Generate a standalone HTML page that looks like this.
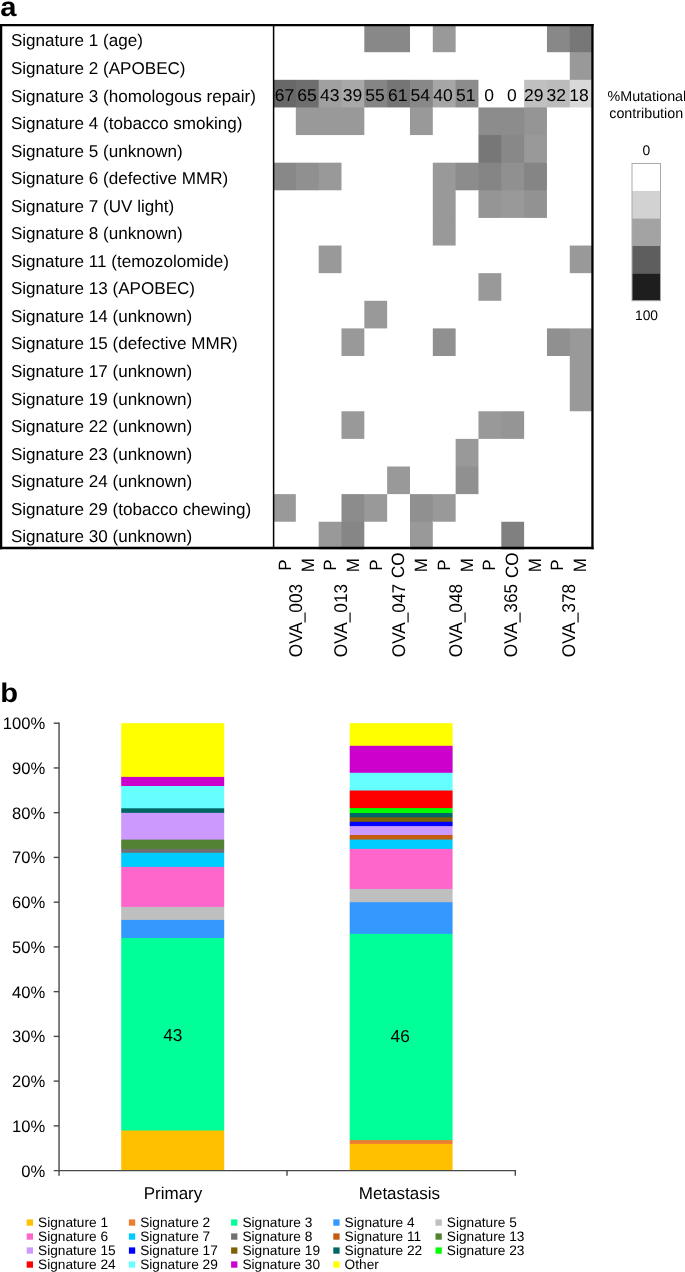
<!DOCTYPE html><html><head><meta charset="utf-8"><title>Mutational signatures</title>
<style>html,body{margin:0;padding:0;background:#fff}svg{display:block;will-change:transform}text{text-rendering:geometricPrecision;font-family:"Liberation Sans",Arial,Helvetica,sans-serif;fill:#000}</style></head><body>
<svg width="685" height="1272" viewBox="0 0 685 1272">
<rect width="685" height="1272" fill="#fff"/>
<text transform="translate(0.2 15.7) scale(1.08 1)" font-size="27" font-weight="bold">a</text>
<text transform="translate(0.3 702.3) scale(1.08 1)" font-size="27" font-weight="bold">b</text>
<g>
<rect x="387" y="25" width="1" height="27" fill="#888888"/>
<rect x="569" y="25" width="1" height="27" fill="#888888"/>
<rect x="570" y="52" width="22" height="1" fill="#777777"/>
<rect x="570" y="79" width="22" height="1" fill="#999999"/>
<rect x="295" y="80" width="1" height="27" fill="#686868"/>
<rect x="318" y="80" width="1" height="27" fill="#6e6e6e"/>
<rect x="296" y="107" width="22" height="1" fill="#6e6e6e"/>
<rect x="341" y="80" width="1" height="27" fill="#a0a0a0"/>
<rect x="319" y="107" width="22" height="1" fill="#a0a0a0"/>
<rect x="364" y="80" width="1" height="27" fill="#a8a8a8"/>
<rect x="342" y="107" width="22" height="1" fill="#a8a8a8"/>
<rect x="387" y="80" width="1" height="27" fill="#858585"/>
<rect x="409" y="80" width="1" height="27" fill="#757575"/>
<rect x="432" y="80" width="1" height="27" fill="#888888"/>
<rect x="410" y="107" width="22" height="1" fill="#888888"/>
<rect x="455" y="80" width="1" height="27" fill="#a6a6a6"/>
<rect x="546" y="80" width="1" height="27" fill="#c0c0c0"/>
<rect x="525" y="107" width="21" height="1" fill="#c0c0c0"/>
<rect x="569" y="80" width="1" height="27" fill="#bbbbbb"/>
<rect x="318" y="108" width="1" height="27" fill="#999999"/>
<rect x="341" y="108" width="1" height="27" fill="#999999"/>
<rect x="501" y="108" width="1" height="27" fill="#8c8c8c"/>
<rect x="479" y="135" width="22" height="1" fill="#8c8c8c"/>
<rect x="524" y="108" width="1" height="27" fill="#8c8c8c"/>
<rect x="502" y="135" width="22" height="1" fill="#8c8c8c"/>
<rect x="525" y="135" width="21" height="1" fill="#959595"/>
<rect x="501" y="136" width="1" height="26" fill="#777777"/>
<rect x="479" y="162" width="22" height="1" fill="#777777"/>
<rect x="524" y="136" width="1" height="26" fill="#888888"/>
<rect x="502" y="162" width="22" height="1" fill="#888888"/>
<rect x="525" y="162" width="21" height="1" fill="#999999"/>
<rect x="295" y="163" width="1" height="27" fill="#888888"/>
<rect x="318" y="163" width="1" height="27" fill="#909090"/>
<rect x="455" y="163" width="1" height="27" fill="#999999"/>
<rect x="433" y="190" width="22" height="1" fill="#999999"/>
<rect x="478" y="163" width="1" height="27" fill="#8c8c8c"/>
<rect x="501" y="163" width="1" height="27" fill="#858585"/>
<rect x="479" y="190" width="22" height="1" fill="#858585"/>
<rect x="524" y="163" width="1" height="27" fill="#909090"/>
<rect x="502" y="190" width="22" height="1" fill="#909090"/>
<rect x="525" y="190" width="21" height="1" fill="#858585"/>
<rect x="433" y="217" width="22" height="1" fill="#999999"/>
<rect x="501" y="191" width="1" height="26" fill="#959595"/>
<rect x="524" y="191" width="1" height="26" fill="#999999"/>
<rect x="569" y="329" width="1" height="27" fill="#909090"/>
<rect x="570" y="356" width="22" height="1" fill="#999999"/>
<rect x="570" y="383" width="22" height="1" fill="#999999"/>
<rect x="501" y="412" width="1" height="26" fill="#999999"/>
<rect x="456" y="466" width="22" height="1" fill="#999999"/>
<rect x="364" y="495" width="1" height="26" fill="#8c8c8c"/>
<rect x="342" y="521" width="22" height="1" fill="#8c8c8c"/>
<rect x="432" y="495" width="1" height="26" fill="#909090"/>
<rect x="410" y="521" width="22" height="1" fill="#909090"/>
<rect x="341" y="522" width="1" height="27" fill="#999999"/>
<rect x="318" y="107" width="1" height="1" fill="#6e6e6e"/>
<rect x="341" y="107" width="1" height="1" fill="#a0a0a0"/>
<rect x="501" y="135" width="1" height="1" fill="#8c8c8c"/>
<rect x="524" y="135" width="1" height="1" fill="#8c8c8c"/>
<rect x="501" y="162" width="1" height="1" fill="#777777"/>
<rect x="524" y="162" width="1" height="1" fill="#888888"/>
<rect x="501" y="190" width="1" height="1" fill="#858585"/>
<rect x="524" y="190" width="1" height="1" fill="#909090"/>
<rect x="364.32" y="24.58" width="22.83" height="27.62" fill="#888888"/>
<rect x="387.15" y="24.58" width="22.83" height="27.62" fill="#888888"/>
<rect x="432.81" y="24.58" width="22.83" height="27.62" fill="#999999"/>
<rect x="546.96" y="24.58" width="22.83" height="27.62" fill="#888888"/>
<rect x="569.79" y="24.58" width="22.83" height="27.62" fill="#777777"/>
<rect x="569.79" y="52.20" width="22.83" height="27.62" fill="#999999"/>
<rect x="273.00" y="79.82" width="22.83" height="27.62" fill="#686868"/>
<rect x="295.83" y="79.82" width="22.83" height="27.62" fill="#6e6e6e"/>
<rect x="318.66" y="79.82" width="22.83" height="27.62" fill="#a0a0a0"/>
<rect x="341.49" y="79.82" width="22.83" height="27.62" fill="#a8a8a8"/>
<rect x="364.32" y="79.82" width="22.83" height="27.62" fill="#858585"/>
<rect x="387.15" y="79.82" width="22.83" height="27.62" fill="#757575"/>
<rect x="409.98" y="79.82" width="22.83" height="27.62" fill="#888888"/>
<rect x="432.81" y="79.82" width="22.83" height="27.62" fill="#a6a6a6"/>
<rect x="455.64" y="79.82" width="22.83" height="27.62" fill="#8c8c8c"/>
<rect x="524.13" y="79.82" width="22.83" height="27.62" fill="#c0c0c0"/>
<rect x="546.96" y="79.82" width="22.83" height="27.62" fill="#bbbbbb"/>
<rect x="569.79" y="79.82" width="22.83" height="27.62" fill="#d8d8d8"/>
<rect x="295.83" y="107.44" width="22.83" height="27.62" fill="#999999"/>
<rect x="318.66" y="107.44" width="22.83" height="27.62" fill="#999999"/>
<rect x="341.49" y="107.44" width="22.83" height="27.62" fill="#999999"/>
<rect x="409.98" y="107.44" width="22.83" height="27.62" fill="#999999"/>
<rect x="478.47" y="107.44" width="22.83" height="27.62" fill="#8c8c8c"/>
<rect x="501.30" y="107.44" width="22.83" height="27.62" fill="#8c8c8c"/>
<rect x="524.13" y="107.44" width="22.83" height="27.62" fill="#959595"/>
<rect x="478.47" y="135.06" width="22.83" height="27.62" fill="#777777"/>
<rect x="501.30" y="135.06" width="22.83" height="27.62" fill="#888888"/>
<rect x="524.13" y="135.06" width="22.83" height="27.62" fill="#999999"/>
<rect x="273.00" y="162.68" width="22.83" height="27.62" fill="#888888"/>
<rect x="295.83" y="162.68" width="22.83" height="27.62" fill="#909090"/>
<rect x="318.66" y="162.68" width="22.83" height="27.62" fill="#999999"/>
<rect x="432.81" y="162.68" width="22.83" height="27.62" fill="#999999"/>
<rect x="455.64" y="162.68" width="22.83" height="27.62" fill="#8c8c8c"/>
<rect x="478.47" y="162.68" width="22.83" height="27.62" fill="#858585"/>
<rect x="501.30" y="162.68" width="22.83" height="27.62" fill="#909090"/>
<rect x="524.13" y="162.68" width="22.83" height="27.62" fill="#858585"/>
<rect x="432.81" y="190.30" width="22.83" height="27.62" fill="#999999"/>
<rect x="478.47" y="190.30" width="22.83" height="27.62" fill="#959595"/>
<rect x="501.30" y="190.30" width="22.83" height="27.62" fill="#999999"/>
<rect x="524.13" y="190.30" width="22.83" height="27.62" fill="#929292"/>
<rect x="432.81" y="217.92" width="22.83" height="27.62" fill="#999999"/>
<rect x="318.66" y="245.54" width="22.83" height="27.62" fill="#999999"/>
<rect x="569.79" y="245.54" width="22.83" height="27.62" fill="#999999"/>
<rect x="478.47" y="273.16" width="22.83" height="27.62" fill="#999999"/>
<rect x="364.32" y="300.78" width="22.83" height="27.62" fill="#999999"/>
<rect x="341.49" y="328.40" width="22.83" height="27.62" fill="#999999"/>
<rect x="432.81" y="328.40" width="22.83" height="27.62" fill="#909090"/>
<rect x="546.96" y="328.40" width="22.83" height="27.62" fill="#909090"/>
<rect x="569.79" y="328.40" width="22.83" height="27.62" fill="#999999"/>
<rect x="569.79" y="356.02" width="22.83" height="27.62" fill="#999999"/>
<rect x="569.79" y="383.64" width="22.83" height="27.62" fill="#999999"/>
<rect x="341.49" y="411.26" width="22.83" height="27.62" fill="#999999"/>
<rect x="478.47" y="411.26" width="22.83" height="27.62" fill="#999999"/>
<rect x="501.30" y="411.26" width="22.83" height="27.62" fill="#959595"/>
<rect x="455.64" y="438.88" width="22.83" height="27.62" fill="#999999"/>
<rect x="387.15" y="466.50" width="22.83" height="27.62" fill="#999999"/>
<rect x="455.64" y="466.50" width="22.83" height="27.62" fill="#909090"/>
<rect x="273.00" y="494.12" width="22.83" height="27.62" fill="#999999"/>
<rect x="341.49" y="494.12" width="22.83" height="27.62" fill="#8c8c8c"/>
<rect x="364.32" y="494.12" width="22.83" height="27.62" fill="#999999"/>
<rect x="409.98" y="494.12" width="22.83" height="27.62" fill="#909090"/>
<rect x="432.81" y="494.12" width="22.83" height="27.62" fill="#999999"/>
<rect x="318.66" y="521.74" width="22.83" height="27.62" fill="#999999"/>
<rect x="341.49" y="521.74" width="22.83" height="27.62" fill="#868686"/>
<rect x="409.98" y="521.74" width="22.83" height="27.62" fill="#999999"/>
<rect x="501.30" y="521.74" width="22.83" height="27.62" fill="#808080"/>
</g>
<g stroke="#000" fill="none"><line x1="0" y1="25.15" x2="593.6" y2="25.15" stroke-width="2.3"/><line x1="0" y1="548" x2="593.6" y2="548" stroke-width="2.5"/><line x1="1.1" y1="24" x2="1.1" y2="549.2" stroke-width="2.3"/><line x1="592.45" y1="24" x2="592.45" y2="549.2" stroke-width="2.3"/></g>
<line x1="273.6" y1="25" x2="273.6" y2="548" stroke="#000" stroke-width="1.5"/>
<g font-size="17.08">
<text x="10.9" y="46.40">Signature 1 (age)</text>
<text x="10.9" y="73.95">Signature 2 (APOBEC)</text>
<text x="10.9" y="101.50">Signature 3 (homologous repair)</text>
<text x="10.9" y="129.05">Signature 4 (tobacco smoking)</text>
<text x="10.9" y="156.60">Signature 5 (unknown)</text>
<text x="10.9" y="184.15">Signature 6 (defective MMR)</text>
<text x="10.9" y="211.70">Signature 7 (UV light)</text>
<text x="10.9" y="239.25">Signature 8 (unknown)</text>
<text x="10.9" y="266.80">Signature 11 (temozolomide)</text>
<text x="10.9" y="294.35">Signature 13 (APOBEC)</text>
<text x="10.9" y="321.90">Signature 14 (unknown)</text>
<text x="10.9" y="349.45">Signature 15 (defective MMR)</text>
<text x="10.9" y="377.00">Signature 17 (unknown)</text>
<text x="10.9" y="404.55">Signature 19 (unknown)</text>
<text x="10.9" y="432.10">Signature 22 (unknown)</text>
<text x="10.9" y="459.65">Signature 23 (unknown)</text>
<text x="10.9" y="487.20">Signature 24 (unknown)</text>
<text x="10.9" y="514.75">Signature 29 (tobacco chewing)</text>
<text x="10.9" y="542.30">Signature 30 (unknown)</text>
</g>
<g font-size="17.2" text-anchor="middle">
<text transform="translate(284.40 101.3) scale(1.02 1)">67</text>
<text transform="translate(307.06 101.3) scale(1.02 1)">65</text>
<text transform="translate(329.72 101.3) scale(1.02 1)">43</text>
<text transform="translate(352.38 101.3) scale(1.02 1)">39</text>
<text transform="translate(375.04 101.3) scale(1.02 1)">55</text>
<text transform="translate(397.70 101.3) scale(1.02 1)">61</text>
<text transform="translate(420.36 101.3) scale(1.02 1)">54</text>
<text transform="translate(443.02 101.3) scale(1.02 1)">40</text>
<text transform="translate(465.68 101.3) scale(1.02 1)">51</text>
<text transform="translate(489.14 101.3) scale(1.02 1)">0</text>
<text transform="translate(511.80 101.3) scale(1.02 1)">0</text>
<text transform="translate(533.66 101.3) scale(1.02 1)">29</text>
<text transform="translate(556.32 101.3) scale(1.02 1)">32</text>
<text transform="translate(578.98 101.3) scale(1.02 1)">18</text>
</g>
<g font-size="13.8" text-anchor="middle"><text x="646.9" y="101.1" font-size="14.3">%Mutational</text><text x="646.2" y="117.9" font-size="14.3">contribution</text><text x="646.4" y="154.7">0</text><text x="646.5" y="320">100</text></g>
<rect x="632.0" y="163.50" width="28.5" height="27.45" fill="#ffffff"/>
<rect x="632.0" y="190.95" width="28.5" height="27.45" fill="#d2d2d2"/>
<rect x="632.0" y="218.40" width="28.5" height="27.45" fill="#a3a3a3"/>
<rect x="632.0" y="245.85" width="28.5" height="27.45" fill="#5e5e5e"/>
<rect x="632.0" y="273.30" width="28.5" height="27.45" fill="#1e1e1e"/>
<rect x="632.0" y="163.5" width="28.5" height="137.2" fill="none" stroke="#aaa" stroke-width="1"/>
<g font-size="17" text-anchor="middle">
<text transform="translate(290.90 565.2) scale(1.05 1) rotate(-90)">P</text>
<text transform="translate(313.60 565.2) scale(1.05 1) rotate(-90)">M</text>
<text transform="translate(336.30 565.2) scale(1.05 1) rotate(-90)">P</text>
<text transform="translate(359.00 565.2) scale(1.05 1) rotate(-90)">M</text>
<text transform="translate(381.70 565.2) scale(1.05 1) rotate(-90)">P</text>
<text transform="translate(404.40 565.2) scale(1.05 1) rotate(-90)">CO</text>
<text transform="translate(427.10 565.2) scale(1.05 1) rotate(-90)">M</text>
<text transform="translate(449.80 565.2) scale(1.05 1) rotate(-90)">P</text>
<text transform="translate(472.50 565.2) scale(1.05 1) rotate(-90)">M</text>
<text transform="translate(495.20 565.2) scale(1.05 1) rotate(-90)">P</text>
<text transform="translate(517.90 565.2) scale(1.05 1) rotate(-90)">CO</text>
<text transform="translate(540.60 565.2) scale(1.05 1) rotate(-90)">M</text>
<text transform="translate(563.30 565.2) scale(1.05 1) rotate(-90)">P</text>
<text transform="translate(586.00 565.2) scale(1.05 1) rotate(-90)">M</text>
</g>
<g font-size="17.2" text-anchor="middle">
<text transform="translate(301.50 620.6) scale(1.07 1) rotate(-90)">OVA_003</text>
<text transform="translate(347.20 620.6) scale(1.07 1) rotate(-90)">OVA_013</text>
<text transform="translate(404.90 620.6) scale(1.07 1) rotate(-90)">OVA_047</text>
<text transform="translate(462.40 620.6) scale(1.07 1) rotate(-90)">OVA_048</text>
<text transform="translate(517.30 620.6) scale(1.07 1) rotate(-90)">OVA_365</text>
<text transform="translate(575.30 620.6) scale(1.07 1) rotate(-90)">OVA_378</text>
</g>
<g>
<rect x="122" y="723.15" width="102" height="447.45" fill="#FFFF00"/>
<rect x="122" y="776.90" width="102" height="393.70" fill="#CC00CC"/>
<rect x="122" y="786.00" width="102" height="384.60" fill="#66FFFF"/>
<rect x="122" y="808.30" width="102" height="362.30" fill="#006666"/>
<rect x="122" y="812.85" width="102" height="357.75" fill="#CC99FF"/>
<rect x="122" y="839.60" width="102" height="331.00" fill="#548235"/>
<rect x="122" y="848.85" width="102" height="321.75" fill="#707070"/>
<rect x="122" y="852.80" width="102" height="317.80" fill="#00CCFF"/>
<rect x="122" y="866.90" width="102" height="303.70" fill="#FF66CC"/>
<rect x="122" y="906.90" width="102" height="263.70" fill="#BFBFBF"/>
<rect x="122" y="919.90" width="102" height="250.70" fill="#3399FF"/>
<rect x="122" y="938.05" width="102" height="232.55" fill="#00FF99"/>
<rect x="122" y="1130.50" width="102" height="40.10" fill="#FFC000"/>
</g>
<g opacity="0.80">
<rect x="121" y="723.15" width="1" height="447.45" fill="#FFFF00"/>
<rect x="121" y="776.90" width="1" height="393.70" fill="#CC00CC"/>
<rect x="121" y="786.00" width="1" height="384.60" fill="#66FFFF"/>
<rect x="121" y="808.30" width="1" height="362.30" fill="#006666"/>
<rect x="121" y="812.85" width="1" height="357.75" fill="#CC99FF"/>
<rect x="121" y="839.60" width="1" height="331.00" fill="#548235"/>
<rect x="121" y="848.85" width="1" height="321.75" fill="#707070"/>
<rect x="121" y="852.80" width="1" height="317.80" fill="#00CCFF"/>
<rect x="121" y="866.90" width="1" height="303.70" fill="#FF66CC"/>
<rect x="121" y="906.90" width="1" height="263.70" fill="#BFBFBF"/>
<rect x="121" y="919.90" width="1" height="250.70" fill="#3399FF"/>
<rect x="121" y="938.05" width="1" height="232.55" fill="#00FF99"/>
<rect x="121" y="1130.50" width="1" height="40.10" fill="#FFC000"/>
</g>
<g opacity="0.20">
<rect x="224" y="723.15" width="1" height="447.45" fill="#FFFF00"/>
<rect x="224" y="776.90" width="1" height="393.70" fill="#CC00CC"/>
<rect x="224" y="786.00" width="1" height="384.60" fill="#66FFFF"/>
<rect x="224" y="808.30" width="1" height="362.30" fill="#006666"/>
<rect x="224" y="812.85" width="1" height="357.75" fill="#CC99FF"/>
<rect x="224" y="839.60" width="1" height="331.00" fill="#548235"/>
<rect x="224" y="848.85" width="1" height="321.75" fill="#707070"/>
<rect x="224" y="852.80" width="1" height="317.80" fill="#00CCFF"/>
<rect x="224" y="866.90" width="1" height="303.70" fill="#FF66CC"/>
<rect x="224" y="906.90" width="1" height="263.70" fill="#BFBFBF"/>
<rect x="224" y="919.90" width="1" height="250.70" fill="#3399FF"/>
<rect x="224" y="938.05" width="1" height="232.55" fill="#00FF99"/>
<rect x="224" y="1130.50" width="1" height="40.10" fill="#FFC000"/>
</g>
<g>
<rect x="350" y="723.15" width="102" height="447.45" fill="#FFFF00"/>
<rect x="350" y="745.80" width="102" height="424.80" fill="#CC00CC"/>
<rect x="350" y="772.80" width="102" height="397.80" fill="#66FFFF"/>
<rect x="350" y="790.50" width="102" height="380.10" fill="#FF0000"/>
<rect x="350" y="808.10" width="102" height="362.50" fill="#00FF00"/>
<rect x="350" y="812.95" width="102" height="357.65" fill="#006666"/>
<rect x="350" y="817.30" width="102" height="353.30" fill="#7F6000"/>
<rect x="350" y="821.80" width="102" height="348.80" fill="#0000FF"/>
<rect x="350" y="826.10" width="102" height="344.50" fill="#CC99FF"/>
<rect x="350" y="835.00" width="102" height="335.60" fill="#C55A11"/>
<rect x="350" y="839.55" width="102" height="331.05" fill="#00CCFF"/>
<rect x="350" y="848.90" width="102" height="321.70" fill="#FF66CC"/>
<rect x="350" y="888.95" width="102" height="281.65" fill="#BFBFBF"/>
<rect x="350" y="902.20" width="102" height="268.40" fill="#3399FF"/>
<rect x="350" y="933.85" width="102" height="236.75" fill="#00FF99"/>
<rect x="350" y="1140.10" width="102" height="30.50" fill="#ED7D31"/>
<rect x="350" y="1143.90" width="102" height="26.70" fill="#FFC000"/>
</g>
<g opacity="0.30">
<rect x="349" y="723.15" width="1" height="447.45" fill="#FFFF00"/>
<rect x="349" y="745.80" width="1" height="424.80" fill="#CC00CC"/>
<rect x="349" y="772.80" width="1" height="397.80" fill="#66FFFF"/>
<rect x="349" y="790.50" width="1" height="380.10" fill="#FF0000"/>
<rect x="349" y="808.10" width="1" height="362.50" fill="#00FF00"/>
<rect x="349" y="812.95" width="1" height="357.65" fill="#006666"/>
<rect x="349" y="817.30" width="1" height="353.30" fill="#7F6000"/>
<rect x="349" y="821.80" width="1" height="348.80" fill="#0000FF"/>
<rect x="349" y="826.10" width="1" height="344.50" fill="#CC99FF"/>
<rect x="349" y="835.00" width="1" height="335.60" fill="#C55A11"/>
<rect x="349" y="839.55" width="1" height="331.05" fill="#00CCFF"/>
<rect x="349" y="848.90" width="1" height="321.70" fill="#FF66CC"/>
<rect x="349" y="888.95" width="1" height="281.65" fill="#BFBFBF"/>
<rect x="349" y="902.20" width="1" height="268.40" fill="#3399FF"/>
<rect x="349" y="933.85" width="1" height="236.75" fill="#00FF99"/>
<rect x="349" y="1140.10" width="1" height="30.50" fill="#ED7D31"/>
<rect x="349" y="1143.90" width="1" height="26.70" fill="#FFC000"/>
</g>
<g opacity="0.60">
<rect x="452" y="723.15" width="1" height="447.45" fill="#FFFF00"/>
<rect x="452" y="745.80" width="1" height="424.80" fill="#CC00CC"/>
<rect x="452" y="772.80" width="1" height="397.80" fill="#66FFFF"/>
<rect x="452" y="790.50" width="1" height="380.10" fill="#FF0000"/>
<rect x="452" y="808.10" width="1" height="362.50" fill="#00FF00"/>
<rect x="452" y="812.95" width="1" height="357.65" fill="#006666"/>
<rect x="452" y="817.30" width="1" height="353.30" fill="#7F6000"/>
<rect x="452" y="821.80" width="1" height="348.80" fill="#0000FF"/>
<rect x="452" y="826.10" width="1" height="344.50" fill="#CC99FF"/>
<rect x="452" y="835.00" width="1" height="335.60" fill="#C55A11"/>
<rect x="452" y="839.55" width="1" height="331.05" fill="#00CCFF"/>
<rect x="452" y="848.90" width="1" height="321.70" fill="#FF66CC"/>
<rect x="452" y="888.95" width="1" height="281.65" fill="#BFBFBF"/>
<rect x="452" y="902.20" width="1" height="268.40" fill="#3399FF"/>
<rect x="452" y="933.85" width="1" height="236.75" fill="#00FF99"/>
<rect x="452" y="1140.10" width="1" height="30.50" fill="#ED7D31"/>
<rect x="452" y="1143.90" width="1" height="26.70" fill="#FFC000"/>
</g>
<g stroke="#484848" stroke-width="1.4" fill="none">
<line x1="59.05" y1="722.5" x2="59.05" y2="1175.7"/>
<line x1="53.7" y1="1170.6" x2="516" y2="1170.6"/>
<line x1="53.7" y1="723.20" x2="59.05" y2="723.20"/>
<line x1="53.7" y1="767.94" x2="59.05" y2="767.94"/>
<line x1="53.7" y1="812.68" x2="59.05" y2="812.68"/>
<line x1="53.7" y1="857.42" x2="59.05" y2="857.42"/>
<line x1="53.7" y1="902.16" x2="59.05" y2="902.16"/>
<line x1="53.7" y1="946.90" x2="59.05" y2="946.90"/>
<line x1="53.7" y1="991.64" x2="59.05" y2="991.64"/>
<line x1="53.7" y1="1036.38" x2="59.05" y2="1036.38"/>
<line x1="53.7" y1="1081.12" x2="59.05" y2="1081.12"/>
<line x1="53.7" y1="1125.86" x2="59.05" y2="1125.86"/>
<line x1="287.0" y1="1170.6" x2="287.0" y2="1175.7"/>
<line x1="515.3" y1="1170.6" x2="515.3" y2="1175.7"/>
</g>
<g font-size="16.6" text-anchor="end">
<text x="45.3" y="729.10">100%</text>
<text x="45.3" y="773.84">90%</text>
<text x="45.3" y="818.58">80%</text>
<text x="45.3" y="863.32">70%</text>
<text x="45.3" y="908.06">60%</text>
<text x="45.3" y="952.80">50%</text>
<text x="45.3" y="997.54">40%</text>
<text x="45.3" y="1042.28">30%</text>
<text x="45.3" y="1087.02">20%</text>
<text x="45.3" y="1131.76">10%</text>
<text x="45.3" y="1176.50">0%</text>
</g>
<g font-size="17.3" text-anchor="middle"><text x="172.85" y="1040.7">43</text><text x="400.2" y="1042.3">46</text></g>
<g font-size="17" text-anchor="middle"><text x="173" y="1198.8">Primary</text><text x="399.4" y="1198.8">Metastasis</text></g>
<g font-size="13.7">
<rect x="26.7" y="1219.4" width="6.3" height="6.3" fill="#FFC000"/>
<text x="38.0" y="1226.8">Signature 1</text>
<rect x="128.9" y="1219.4" width="6.3" height="6.3" fill="#ED7D31"/>
<text x="140.2" y="1226.8">Signature 2</text>
<rect x="231.1" y="1219.4" width="6.3" height="6.3" fill="#00FF99"/>
<text x="242.4" y="1226.8">Signature 3</text>
<rect x="333.3" y="1219.4" width="6.3" height="6.3" fill="#3399FF"/>
<text x="344.6" y="1226.8">Signature 4</text>
<rect x="435.5" y="1219.4" width="6.3" height="6.3" fill="#BFBFBF"/>
<text x="446.8" y="1226.8">Signature 5</text>
<rect x="26.7" y="1233.4" width="6.3" height="6.3" fill="#FF66CC"/>
<text x="38.0" y="1240.8">Signature 6</text>
<rect x="128.9" y="1233.4" width="6.3" height="6.3" fill="#00CCFF"/>
<text x="140.2" y="1240.8">Signature 7</text>
<rect x="231.1" y="1233.4" width="6.3" height="6.3" fill="#707070"/>
<text x="242.4" y="1240.8">Signature 8</text>
<rect x="333.3" y="1233.4" width="6.3" height="6.3" fill="#C55A11"/>
<text x="344.6" y="1240.8">Signature 11</text>
<rect x="435.5" y="1233.4" width="6.3" height="6.3" fill="#548235"/>
<text x="446.8" y="1240.8">Signature 13</text>
<rect x="26.7" y="1247.4" width="6.3" height="6.3" fill="#CC99FF"/>
<text x="38.0" y="1254.8">Signature 15</text>
<rect x="128.9" y="1247.4" width="6.3" height="6.3" fill="#0000FF"/>
<text x="140.2" y="1254.8">Signature 17</text>
<rect x="231.1" y="1247.4" width="6.3" height="6.3" fill="#7F6000"/>
<text x="242.4" y="1254.8">Signature 19</text>
<rect x="333.3" y="1247.4" width="6.3" height="6.3" fill="#006666"/>
<text x="344.6" y="1254.8">Signature 22</text>
<rect x="435.5" y="1247.4" width="6.3" height="6.3" fill="#00FF00"/>
<text x="446.8" y="1254.8">Signature 23</text>
<rect x="26.7" y="1261.4" width="6.3" height="6.3" fill="#FF0000"/>
<text x="38.0" y="1268.8">Signature 24</text>
<rect x="128.9" y="1261.4" width="6.3" height="6.3" fill="#66FFFF"/>
<text x="140.2" y="1268.8">Signature 29</text>
<rect x="231.1" y="1261.4" width="6.3" height="6.3" fill="#CC00CC"/>
<text x="242.4" y="1268.8">Signature 30</text>
<rect x="333.3" y="1261.4" width="6.3" height="6.3" fill="#FFFF00"/>
<text x="344.6" y="1268.8">Other</text>
</g>
</svg></body></html>
